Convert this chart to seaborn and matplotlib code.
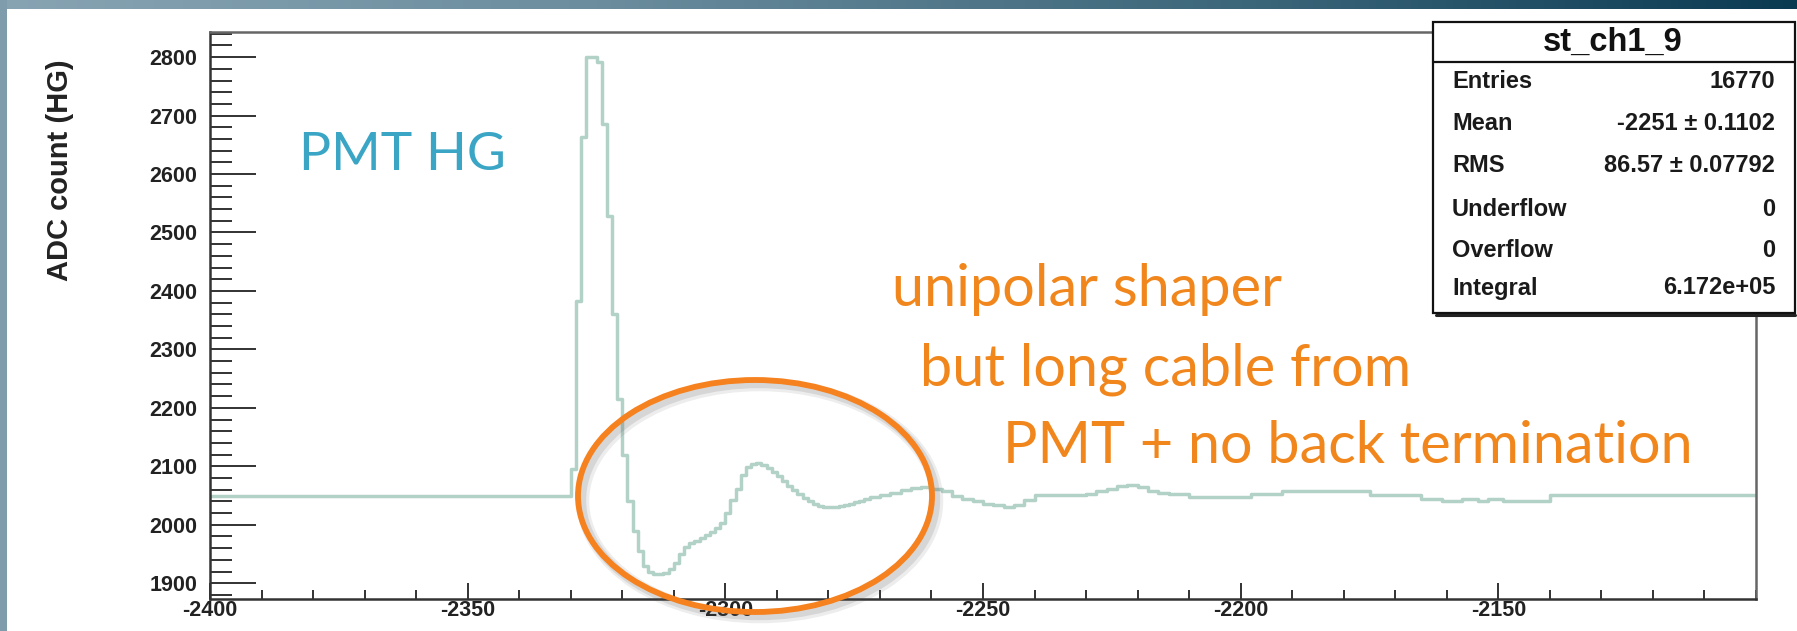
import numpy as np
import pandas as pd
import matplotlib
matplotlib.use("Agg")
import matplotlib.pyplot as plt
import seaborn as sns
from matplotlib.patches import Ellipse, Rectangle
from matplotlib.lines import Line2D
from matplotlib.ticker import MultipleLocator
from matplotlib.colors import LinearSegmentedColormap

# ---------------- data ----------------
# histogram "st_ch1_9": left bin edges and bin contents (ADC count, HG)
bin_left_edges = [
    -2400, -2330, -2329, -2328, -2327, -2325, -2324, -2323, -2322, -2321,
    -2320, -2319, -2318, -2317, -2316, -2315, -2314, -2313, -2312, -2311,
    -2310, -2309, -2308, -2307, -2306, -2305, -2304, -2303, -2302, -2301,
    -2300, -2299, -2298, -2297, -2296, -2295, -2294, -2293, -2292, -2291,
    -2290, -2289, -2288, -2287, -2286, -2285, -2284, -2283, -2282, -2281,
    -2280, -2279, -2278, -2277, -2276, -2275, -2274, -2273, -2272, -2270,
    -2268, -2266, -2264, -2262, -2260, -2258, -2256, -2254, -2252, -2250,
    -2248, -2246, -2244, -2242, -2240, -2230, -2228, -2226, -2224, -2222,
    -2220, -2218, -2216, -2214, -2210, -2198, -2192, -2175, -2165, -2161,
    -2157, -2154, -2152, -2149, -2140,
]
bin_last_edge = -2100
bin_counts = [
    2050, 2095, 2382, 2664, 2800, 2792, 2685, 2528, 2361, 2215,
    2120, 2040, 1990, 1955, 1930, 1920, 1916, 1916, 1918, 1924,
    1935, 1950, 1962, 1968, 1972, 1977, 1982, 1988, 1994, 2003,
    2020, 2042, 2062, 2085, 2098, 2104, 2105, 2102, 2097, 2090,
    2083, 2075, 2067, 2059, 2052, 2046, 2040, 2035, 2032, 2031,
    2031, 2031, 2032, 2034, 2036, 2039, 2041, 2044, 2047, 2051,
    2055, 2059, 2063, 2064, 2062, 2057, 2050, 2044, 2040, 2036,
    2033, 2031, 2033, 2043, 2051, 2052, 2057, 2061, 2066, 2068,
    2064, 2058, 2054, 2052, 2048, 2053, 2058, 2051, 2044, 2041,
    2044, 2041, 2044, 2041, 2051,
]

x_ticks = [-2400, -2350, -2300, -2250, -2200, -2150]
y_ticks = [1900, 2000, 2100, 2200, 2300, 2400, 2500, 2600, 2700, 2800]
x_limits = [-2400, -2100]
y_limits = [1873, 2843]

y_title = "ADC count (HG)"
stats_title = "st_ch1_9"
stats_names = ["Entries", "Mean", "RMS", "Underflow", "Overflow", "Integral"]
stats_values = ["16770", "-2251 \u00b1 0.1102", "86.57 \u00b1 0.07792", "0", "0", "6.172e+05"]

label_pmt = "PMT HG"
note_lines = ["unipolar shaper", "but long cable from", "PMT + no back termination"]

# ---------------- figure ----------------
sns.set_theme(style="white")
plt.rcParams['font.family'] = ['Liberation Sans', 'DejaVu Sans']
plt.rcParams['axes.unicode_minus'] = False

W, H = 1797, 631
fig = plt.figure(figsize=(W / 100, H / 100), dpi=100)
fig.patch.set_facecolor("white")

def fx(px):
    return px / W

def fy(py):
    return 1 - py / H

ax_left, ax_right, ax_top, ax_bottom = 210, 1756, 32, 599
ax = fig.add_axes([fx(ax_left), fy(ax_bottom), (ax_right - ax_left) / W, (ax_bottom - ax_top) / H])
ax.set_facecolor("white")

edges = [float(e) for e in bin_left_edges] + [float(bin_last_edge)]
centers = [(a + b) / 2 for a, b in zip(edges[:-1], edges[1:])]
df = pd.DataFrame({"x": centers, "w": [float(c) for c in bin_counts]})
sns.histplot(data=df, x="x", weights="w", bins=edges, element="step", fill=False,
             color="#b3d2c7", linewidth=2.5, ax=ax)

ax.set_xlim(*x_limits)
ax.set_ylim(*y_limits)
ax.set_xlabel("")
ax.set_ylabel("")
ax.set_xticks(x_ticks)
ax.set_yticks(y_ticks)
ax.set_xticklabels([str(v) for v in x_ticks])
ax.set_yticklabels([str(v) for v in y_ticks])
ax.xaxis.set_minor_locator(MultipleLocator(10))
ax.yaxis.set_minor_locator(MultipleLocator(20))
ax.tick_params(axis="x", which="major", direction="in", length=11.5, width=1.3,
               color="#222222", pad=1, labelsize=15.5, bottom=True, top=False)
ax.tick_params(axis="x", which="minor", direction="in", length=6.5, width=1.3,
               color="#222222", bottom=True, top=False)
ax.tick_params(axis="y", which="major", direction="in", length=33, width=1.3,
               color="#222222", pad=9, labelsize=15.5, left=True, right=False)
ax.tick_params(axis="y", which="minor", direction="in", length=16, width=1.3,
               color="#222222", left=True, right=False)
for lab in ax.get_xticklabels() + ax.get_yticklabels():
    lab.set_fontweight("bold")
    lab.set_color("#222222")
for side in ["left", "bottom"]:
    ax.spines[side].set_color("#333333")
    ax.spines[side].set_linewidth(1.8)
for side in ["top", "right"]:
    ax.spines[side].set_color("#666666")
    ax.spines[side].set_linewidth(1.8)
ax.grid(False)

fig.text(fx(60), fy(170), y_title, rotation=90, ha="center", va="center",
         fontsize=21, fontweight="bold", color="#222222")

# ---------------- annotations ----------------
fig.text(fx(299), fy(170), label_pmt, ha="left", va="baseline",
         fontsize=38.5, color="#3aa5c4", family=["Lato", "DejaVu Sans"])
note_pos = [(892, 306), (920, 385), (1003, 463)]
for (px, py), line in zip(note_pos, note_lines):
    fig.text(fx(px), fy(py), line, ha="left", va="baseline",
             fontsize=41.5, color="#f0861c", family=["Lato", "DejaVu Sans"])

# ellipse with a soft shadow
ecx, ecy, ew, eh = 755, 496, 354, 232
for off, alpha, lw in [(5, 0.10, 9), (4, 0.15, 6)]:
    fig.add_artist(Ellipse((fx(ecx + off), fy(ecy + off)), ew / W, eh / H,
                           transform=fig.transFigure, fill=False,
                           edgecolor="#555555", alpha=alpha, linewidth=lw, zorder=4))
fig.add_artist(Ellipse((fx(ecx), fy(ecy)), ew / W, eh / H, transform=fig.transFigure,
                       fill=False, edgecolor="#f5811f", linewidth=4.2, zorder=5))

# ---------------- stats box ----------------
bx0, by0, bx1, by1 = 1433, 22, 1795, 313
fig.add_artist(Rectangle((fx(bx0), fy(by1)), (bx1 - bx0) / W, (by1 - by0) / H,
                         transform=fig.transFigure, facecolor="white",
                         edgecolor="#111111", linewidth=1.6, zorder=6))
fig.add_artist(Line2D([fx(bx0 + 3), fx(bx1)], [fy(by1 + 2), fy(by1 + 2)],
                      transform=fig.transFigure, color="#222222", linewidth=2.2, zorder=6))
fig.add_artist(Line2D([fx(bx0), fx(bx1)], [fy(62), fy(62)], transform=fig.transFigure,
                      color="#111111", linewidth=1.6, zorder=7))
fig.text(fx(1613), fy(42), stats_title, ha="center", va="center", fontsize=23.5,
         fontweight="bold", color="#111111", zorder=8)
row_y = [82, 123, 165, 210, 250, 288]
for yy, name, val in zip(row_y, stats_names, stats_values):
    fig.text(fx(1452), fy(yy), name, ha="left", va="center", fontsize=17,
             fontweight="bold", color="#1a1a1a", zorder=8)
    fig.text(fx(1775), fy(yy), val, ha="right", va="center", fontsize=17,
             fontweight="bold", color="#1a1a1a", zorder=8)

# ---------------- slide frame (top gradient band, left band) ----------------
band_cmap = LinearSegmentedColormap.from_list(
    "band", [(0.0, "#88a4b3"), (0.33, "#6b8d9e"), (0.7, "#3b6579"), (1.0, "#0a3a52")])
band_ax = fig.add_axes([0, fy(9), 1, 9 / H])
band_ax.imshow(np.linspace(0, 1, 512)[None, :], aspect="auto", cmap=band_cmap)
band_ax.set_axis_off()
fig.add_artist(Rectangle((0, 0), fx(7), 1, transform=fig.transFigure,
                         facecolor="#7e9cab", edgecolor="none", zorder=9))

fig.savefig("out.png", dpi=100, facecolor="white")
